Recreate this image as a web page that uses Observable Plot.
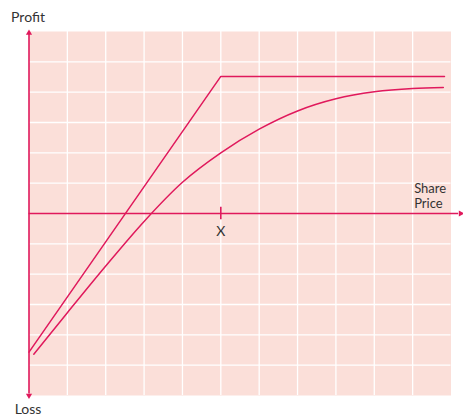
<!DOCTYPE html>
<html>
<head>
<meta charset="utf-8">
<script src="https://cdn.jsdelivr.net/npm/d3@7"></script>
<script src="https://cdn.jsdelivr.net/npm/@observablehq/plot@0.6"></script>
<style>
  html, body { margin: 0; padding: 0; background: #fff; }
</style>
</head>
<body>
<div id="chart"></div>
<script>
// Grid positions (data units)
const gridXValues = [1, 2, 3, 4, 5, 6, 7, 8, 9, 10];
const gridYValues = [-5, -4, -3, -2, -1, 1, 2, 3, 4, 5];

// Payoff at expiry (kinked line)
const payoffX = [0, 5, 10.83];
const payoffY = [-4.57, 4.52, 4.52];

// Value before expiry (curve)
const curveX = [0.125, 1, 2, 3, 4, 5, 6, 7, 8, 9, 10, 10.8];
const curveY = [-4.64, -3.27, -1.73, -0.26, 1.03, 2.0, 2.78, 3.38, 3.78, 4.01, 4.12, 4.15];

// Labels
const strikeLabel = "X";
const strikeX = 5;
const yTopLabel = "Profit";
const yBottomLabel = "Loss";
const xAxisLabel = "Share\nPrice";

const red = "#e0195c";
const bg = "#fbdfd9";
const textColor = "#333333";

const payoff = payoffX.map((x, i) => ({x, y: payoffY[i]}));
const curve = curveX.map((x, i) => ({x, y: curveY[i]}));

const chart = Plot.plot({
  width: 463,
  height: 416,
  marginLeft: 28.5,
  marginRight: 12.5,
  marginTop: 31,
  marginBottom: 21,
  x: {domain: [0, 11], axis: null},
  y: {domain: [-6, 6], axis: null},
  style: {fontFamily: "Lato, 'Open Sans', sans-serif", background: "white", overflow: "visible"},
  marks: [
    Plot.frame({fill: bg, stroke: null}),
    Plot.ruleX(gridXValues, {stroke: "white", strokeWidth: 1.3}),
    Plot.ruleY(gridYValues, {stroke: "white", strokeWidth: 1.3}),
    // axes
    Plot.ruleX([0], {y1: -5.95, y2: 5.95, stroke: red, strokeWidth: 1.6}),
    Plot.ruleY([0], {x1: 0, x2: 11.2, stroke: red, strokeWidth: 1.6}),
    Plot.ruleX([strikeX], {y1: -0.21, y2: 0.21, stroke: red, strokeWidth: 1.6}),
    Plot.dot([{x: 0, y: 6}], {x: "x", y: "y", symbol: "triangle", r: 2.3, fill: red, stroke: null, dy: 1.5}),
    Plot.dot([{x: 0, y: -6}], {x: "x", y: "y", symbol: "triangle", r: 2.3, fill: red, stroke: null, rotate: 180}),
    Plot.dot([{x: 11.25, y: 0}], {x: "x", y: "y", symbol: "triangle", r: 2.3, fill: red, stroke: null, rotate: 90}),
    // lines
    Plot.line(payoff, {x: "x", y: "y", stroke: red, strokeWidth: 1.5}),
    Plot.line(curve, {x: "x", y: "y", stroke: red, strokeWidth: 1.5, curve: "monotone-x"}),
    // text
    Plot.text([yTopLabel], {x: 0, y: 6, dx: -1, dy: -14, fontSize: 14, fill: textColor, textAnchor: "middle"}),
    Plot.text([yBottomLabel], {x: 0, y: -6, dx: -1, dy: 14, fontSize: 14, fill: textColor, textAnchor: "middle"}),
    Plot.text([strikeLabel], {x: strikeX, y: 0, dy: 18, fontSize: 14, fill: textColor, textAnchor: "middle"}),
    Plot.text([xAxisLabel], {x: 10, y: 0, dx: 1.5, dy: -18, fontSize: 13, lineHeight: 1.18, fill: textColor, textAnchor: "start"})
  ]
});
document.getElementById("chart").appendChild(chart);
</script>
</body>
</html>
